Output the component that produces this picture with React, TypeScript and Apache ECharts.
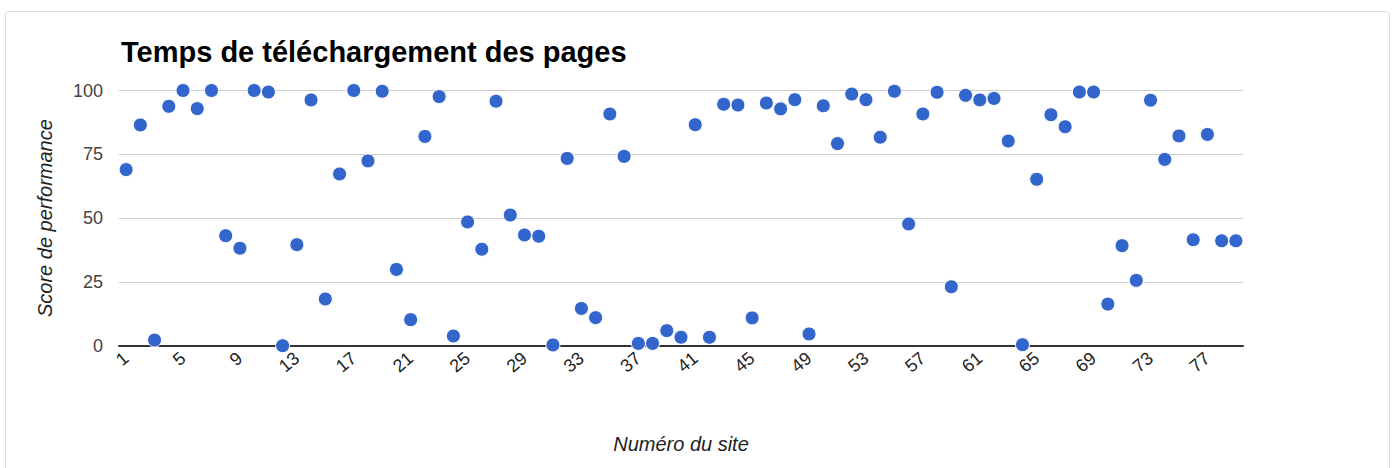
import React, { useEffect, useRef } from "react";
import * as echarts from "echarts";

const siteNumbers: string[] = Array.from({ length: 79 }, (_, i) => String(i + 1));

const scores: number[] = [
  69, 86.5, 2.2, 93.8, 100, 92.9, 100, 43.1, 38.2, 100,
  99.4, 0, 39.6, 96.3, 18.3, 67.3, 100, 72.4, 99.7, 29.9,
  10.2, 82, 97.6, 3.8, 48.5, 37.8, 95.8, 51.2, 43.4, 42.9,
  0.3, 73.4, 14.6, 11, 90.8, 74.2, 0.9, 0.9, 5.9, 3.3,
  86.6, 3.3, 94.6, 94.3, 10.9, 95.1, 92.8, 96.4, 4.6, 94,
  79.2, 98.6, 96.4, 81.7, 99.7, 47.7, 90.8, 99.3, 23.1, 98.1,
  96.3, 96.9, 80.2, 0.4, 65.2, 90.5, 85.8, 99.4, 99.4, 16.3,
  39.2, 25.6, 96.2, 73, 82.2, 41.5, 82.8, 41.1, 41.1,
];

const yTicks = { min: 0, max: 100, interval: 25 };

const titleText = "Temps de téléchargement des pages";
const xAxisTitle = "Numéro du site";
const yAxisTitle = "Score de performance";

const FONT = "Liberation Sans, Arial, sans-serif";

export default function App() {
  const ref = useRef<HTMLDivElement>(null);

  useEffect(() => {
    if (!ref.current) return;
    const chart = echarts.init(ref.current, undefined, { renderer: "svg" });
    chart.setOption({
      animation: false,
      backgroundColor: "transparent",
      textStyle: { fontFamily: FONT },
      title: {
        text: titleText,
        left: 116,
        top: 32,
        textStyle: { fontFamily: FONT, fontWeight: "bold", fontSize: 29, color: "#000" },
      },
      grid: { left: 119, right: 153, top: 90.5, bottom: 122.3, containLabel: false },
      xAxis: {
        type: "category",
        data: siteNumbers,
        boundaryGap: true,
        name: xAxisTitle,
        nameLocation: "middle",
        nameGap: 88,
        nameTextStyle: { fontStyle: "italic", fontSize: 20, color: "#222", fontFamily: FONT },
        axisLine: { show: true, lineStyle: { color: "#333", width: 2 } },
        axisTick: { show: false },
        axisLabel: {
          interval: 3,
          rotate: 40,
          margin: 10,
          fontSize: 18,
          color: "#222",
          fontFamily: FONT,
        },
        splitLine: { show: false },
      },
      yAxis: {
        type: "value",
        min: yTicks.min,
        max: yTicks.max,
        interval: yTicks.interval,
        name: yAxisTitle,
        nameLocation: "middle",
        nameGap: 64,
        nameTextStyle: { fontStyle: "italic", fontSize: 20, color: "#222", fontFamily: FONT },
        axisLine: { show: false },
        axisTick: { show: false },
        axisLabel: { margin: 16, fontSize: 18, color: "#444", fontFamily: FONT },
        splitLine: { show: true, lineStyle: { color: "#cccccc", width: 1 } },
      },
      series: [
        {
          type: "scatter",
          data: scores,
          symbol: "circle",
          symbolSize: 14,
          itemStyle: { color: "#3366cc", borderColor: "#ffffff", borderWidth: 1, opacity: 1 },
          z: 3,
        },
      ],
    });
    return () => chart.dispose();
  }, []);

  return (
    <div style={{ position: "fixed", left: 0, top: 0, width: 1396, height: 468, background: "#fff", overflow: "hidden" }}>
      <div
        style={{
          position: "absolute",
          left: 5,
          top: 11,
          width: 1385,
          height: 480,
          border: "1px solid #dddddd",
          borderRadius: 4,
          boxSizing: "border-box",
        }}
      />
      <div ref={ref} style={{ position: "absolute", left: 0, top: 0, width: 1396, height: 468 }} />
    </div>
  );
}
